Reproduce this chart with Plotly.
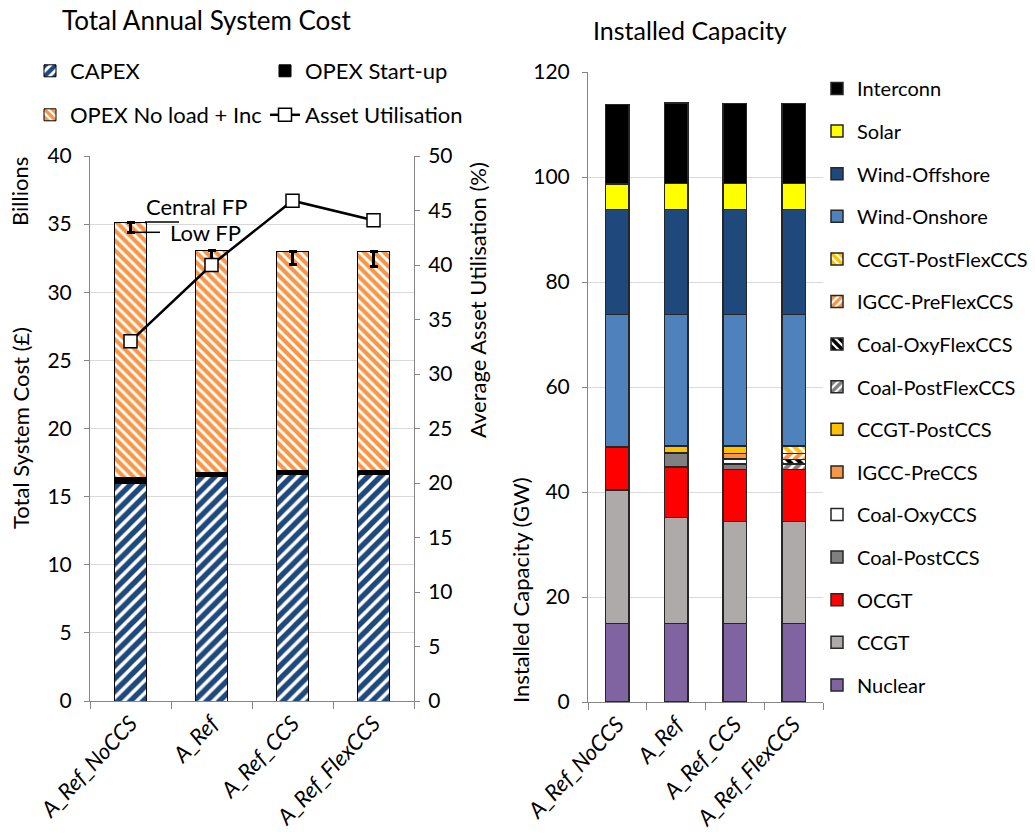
import plotly.graph_objects as go

# ---- Total annual system cost (billion £) ----
scenarios = ["A_Ref_NoCCS", "A_Ref", "A_Ref_CCS", "A_Ref_FlexCCS"]
capex = [16.0, 16.45, 16.6, 16.6]
opex_startup = [0.38, 0.33, 0.32, 0.32]
opex_noload = [18.77, 16.25, 16.1, 16.05]
low_fp_total = [34.4, 32.1, 32.05, 31.9]      # total cost under the low fuel-price case
asset_util = [33.0, 40.0, 45.9, 44.1]          # average asset utilisation (%)

# ---- Installed capacity (GW) ----
nuclear = [15.0, 15.0, 15.0, 15.0]
ccgt = [25.4, 20.1, 19.4, 19.4]
ocgt = [8.2, 9.7, 9.9, 9.9]
coal_postccs = [0, 2.6, 1.0, 0]
coal_oxyccs = [0, 0, 1.0, 0]
igcc_preccs = [0, 0, 1.0, 0]
ccgt_postccs = [0, 1.4, 1.5, 0]
coal_postflexccs = [0, 0, 0, 1.0]
coal_oxyflexccs = [0, 0, 0, 0.9]
igcc_preflexccs = [0, 0, 0, 1.1]
ccgt_postflexccs = [0, 0, 0, 1.5]
wind_onshore = [25.2, 25.0, 25.0, 25.0]
wind_offshore = [20.0, 20.0, 20.0, 20.0]
solar = [4.9, 5.0, 5.0, 5.0]
interconn = [15.1, 15.3, 15.2, 15.2]

W, H = 1035, 835
FONT = "Lato"
AXIS_GREY = "#868686"
GRID_GREY = "#D9D9D9"
TXT = 22


def px_x(p):
    return p / W


def px_y(p):
    return 1 - p / H


def nz(vals):
    return [v if v else None for v in vals]


def stripes(shape, colour, size=8, solidity=0.55):
    return dict(shape=shape, fgcolor=colour, fgopacity=1, bgcolor="white",
                size=size, solidity=solidity, fillmode="replace")


fig = go.Figure()

# ---------- left: cost stack ----------
outline = dict(color="black", width=1)
fig.add_trace(go.Bar(
    x=scenarios, y=capex, name="CAPEX", xaxis="x", yaxis="y", legend="legend",
    marker=dict(color="white", line=outline, pattern=stripes("/", "#1F497D", 9, 0.6)),
))
fig.add_trace(go.Bar(
    x=scenarios, y=opex_startup, name="OPEX Start-up", xaxis="x", yaxis="y", legend="legend",
    marker=dict(color="black", line=outline),
))
totals = [a + b + c for a, b, c in zip(capex, opex_startup, opex_noload)]
fig.add_trace(go.Bar(
    x=scenarios, y=opex_noload, name="OPEX No load + Inc", xaxis="x", yaxis="y", legend="legend3",
    marker=dict(color="white", line=outline, pattern=stripes("\\", "#F79646", 7, 0.6)),
    error_y=dict(type="data", symmetric=False, array=[0] * len(scenarios),
                 arrayminus=[t - lo for t, lo in zip(totals, low_fp_total)],
                 color="black", thickness=3, width=4),
))
fig.add_trace(go.Scatter(
    x=scenarios, y=asset_util, name="Asset Utilisation", xaxis="x", yaxis="y2", legend="legend3",
    mode="lines+markers", line=dict(color="black", width=2.5),
    marker=dict(symbol="square", size=13, color="white", line=dict(color="black", width=1.5)),
))

# ---------- right: capacity stack ----------
cap_series = [
    ("Nuclear", nuclear, "#8064A2", None),
    ("CCGT", ccgt, "#AEAAAA", None),
    ("OCGT", ocgt, "#FF0000", None),
    ("Coal-PostCCS", coal_postccs, "#808080", None),
    ("Coal-OxyCCS", coal_oxyccs, "#FFFFFF", None),
    ("IGCC-PreCCS", igcc_preccs, "#F79646", None),
    ("CCGT-PostCCS", ccgt_postccs, "#FFC000", None),
    ("Coal-PostFlexCCS", coal_postflexccs, "#808080", "/"),
    ("Coal-OxyFlexCCS", coal_oxyflexccs, "#000000", "\\"),
    ("IGCC-PreFlexCCS", igcc_preflexccs, "#F79646", "/"),
    ("CCGT-PostFlexCCS", ccgt_postflexccs, "#FFC000", "\\"),
    ("Wind-Onshore", wind_onshore, "#4F81BD", None),
    ("Wind-Offshore", wind_offshore, "#1F497D", None),
    ("Solar", solar, "#FFFF00", None),
    ("Interconn", interconn, "#000000", None),
]
n_cap = len(cap_series)
for i, (name, vals, col, pat) in enumerate(cap_series):
    if pat:
        marker = dict(color="white", line=dict(color="#262626", width=1.5),
                      pattern=stripes(pat, col, 7, 0.6))
    else:
        marker = dict(color=col, line=dict(color="#262626", width=1.5))
    fig.add_trace(go.Bar(
        x=scenarios, y=nz(vals), name=name, xaxis="x2", yaxis="y3",
        legend="legend2", legendgroup=name, legendrank=100 + (n_cap - i), marker=marker,
    ))

tickfont = dict(family=FONT, size=21, color="black")
xtickfont = dict(family=FONT, size=TXT, color="black", style="italic")

fig.update_layout(
    width=W, height=H,
    margin=dict(l=0, r=0, t=0, b=0, autoexpand=False),
    paper_bgcolor="white", plot_bgcolor="white",
    barmode="stack", bargap=0.6,
    font=dict(family=FONT, size=TXT, color="black"),
    xaxis=dict(domain=[px_x(90), px_x(414)], anchor="y", type="category",
               tickson="boundaries", ticks="outside", ticklen=7, tickcolor=AXIS_GREY,
               showline=True, linecolor=AXIS_GREY, linewidth=1,
               tickangle=-47, tickfont=xtickfont, automargin=False),
    yaxis=dict(domain=[px_y(701), px_y(156)], range=[0, 40], dtick=5,
               showgrid=True, gridcolor=GRID_GREY, gridwidth=1,
               showline=True, linecolor=AXIS_GREY, ticks="outside", ticklen=5, tickcolor=AXIS_GREY,
               ticklabelstandoff=8, tickfont=tickfont, zeroline=False, automargin=False),
    yaxis2=dict(overlaying="y", anchor="x", side="right", range=[0, 50], dtick=5,
                showgrid=False, showline=True, linecolor=AXIS_GREY,
                ticks="outside", ticklen=5, tickcolor=AXIS_GREY, ticklabelstandoff=4,
                tickfont=tickfont, zeroline=False, automargin=False),
    xaxis2=dict(domain=[px_x(588), px_x(823)], anchor="y3", type="category",
                tickson="boundaries", ticks="outside", ticklen=7, tickcolor=AXIS_GREY,
                showline=True, linecolor=AXIS_GREY, linewidth=1,
                tickangle=-47, tickfont=xtickfont, automargin=False),
    yaxis3=dict(domain=[px_y(702), px_y(72)], anchor="x2", range=[0, 120], dtick=20,
                showgrid=True, gridcolor=GRID_GREY, gridwidth=1,
                showline=True, linecolor=AXIS_GREY, ticks="outside", ticklen=5, tickcolor=AXIS_GREY,
                ticklabelstandoff=8, tickfont=tickfont, zeroline=False, automargin=False),
    legend=dict(orientation="h", x=px_x(30), y=px_y(71), xanchor="left", yanchor="middle",
                traceorder="normal", entrywidth=190, entrywidthmode="pixels",
                font=dict(family=FONT, size=TXT), bgcolor="rgba(0,0,0,0)", itemwidth=30),
    legend3=dict(orientation="h", x=px_x(30), y=px_y(115), xanchor="left", yanchor="middle",
                 traceorder="normal", entrywidth=190, entrywidthmode="pixels",
                 font=dict(family=FONT, size=TXT), bgcolor="rgba(0,0,0,0)", itemwidth=30),
    legend2=dict(orientation="v", x=px_x(817), y=px_y(69), xanchor="left", yanchor="top",
                 traceorder="grouped", tracegroupgap=13.6,
                 font=dict(family=FONT, size=20), bgcolor="rgba(0,0,0,0)", itemwidth=30),
)

# titles and axis captions
ann = [
    dict(text="Total Annual System Cost", x=px_x(60), y=px_y(20), xanchor="left", size=26, angle=0),
    dict(text="Installed Capacity", x=px_x(690), y=px_y(30), xanchor="center", size=25, angle=0),
    dict(text="Billions", x=px_x(20), y=px_y(192), xanchor="center", size=TXT, angle=-90),
    dict(text="Total System Cost (£)", x=px_x(20), y=px_y(428), xanchor="center", size=TXT, angle=-90),
    dict(text="Average Asset Utilisation (%)", x=px_x(478), y=px_y(300), xanchor="center", size=TXT, angle=-90),
    dict(text="Installed Capacity (GW)", x=px_x(520), y=px_y(590), xanchor="center", size=TXT, angle=-90),
]
for a in ann:
    fig.add_annotation(text=a["text"], x=a["x"], y=a["y"], xref="paper", yref="paper",
                       xanchor=a["xanchor"], yanchor="middle", showarrow=False,
                       textangle=a["angle"], font=dict(family=FONT, size=a["size"], color="black"))

# fuel-price callouts on the first cost bar
fig.add_annotation(text="Central FP", x=px_x(144), y=totals[0], xref="paper", yref="y",
                   xanchor="left", yanchor="bottom", yshift=0, showarrow=False,
                   font=dict(family=FONT, size=TXT, color="black"))
fig.add_annotation(text="Low FP", x=px_x(168), y=low_fp_total[0], xref="paper", yref="y",
                   xanchor="left", yanchor="middle", showarrow=False,
                   font=dict(family=FONT, size=TXT, color="black"))
fig.add_shape(type="line", xref="paper", yref="y", x0=px_x(145), x1=px_x(179),
              y0=totals[0], y1=totals[0], line=dict(color="black", width=1.5))
fig.add_shape(type="line", xref="paper", yref="y", x0=px_x(133), x1=px_x(160),
              y0=low_fp_total[0], y1=low_fp_total[0], line=dict(color="black", width=1.5))

fig.write_html("out.html")
